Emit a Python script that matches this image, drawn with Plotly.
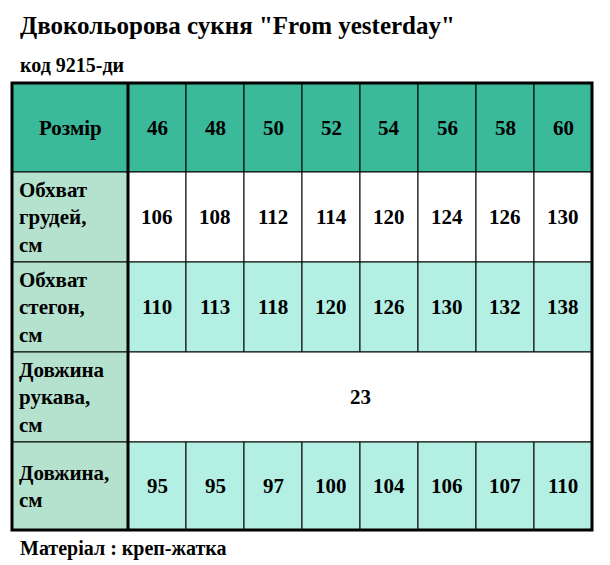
import plotly.graph_objects as go

title = 'Двокольорова сукня "From yesterday"'
subtitle = "код 9215-ди"
footer = "Матеріал : креп-жатка"
header_label = "Розмір"
sizes = ["46", "48", "50", "52", "54", "56", "58", "60"]
row_labels = ["Обхват<br>грудей,<br>см", "Обхват<br>стегон,<br>см", "Довжина<br>рукава,<br>см", "Довжина,<br>см"]
chest = [106, 108, 112, 114, 120, 124, 126, 130]
hips = [110, 113, 118, 120, 126, 130, 132, 138]
sleeve = 23
length = [95, 95, 97, 100, 104, 106, 107, 110]

HEAD = "#3bb99b"; MINT = "#b3efe3"; LABEL = "#b5e2cf"; WHITE = "#ffffff"
FONT = "Liberation Serif"

x0, x1, xl = 12, 592, 128
colw = (x1 - xl) / len(sizes)
ys = [83, 172, 262, 352, 442, 530]
rows = [chest, hips, None, length]
row_bg = [WHITE, MINT, WHITE, MINT]

shapes, ann = [], []
def rect(a, b, c, d, fill, w=1):
    shapes.append(dict(type="rect", x0=a, x1=b, y0=c, y1=d, fillcolor=fill, line=dict(color="black", width=w), layer="below"))
def text(x, y, t, size=21, anchor="center"):
    ann.append(dict(x=x, y=y, text=t, showarrow=False, xanchor=anchor, yanchor="middle",
                    font=dict(family=FONT, size=size, color="black"), align="left"))

rect(x0, xl, ys[0], ys[1], HEAD)
text((x0 + xl) / 2, (ys[0] + ys[1]) / 2, "<b>" + header_label + "</b>")
for i, s in enumerate(sizes):
    a = xl + i * colw
    rect(a, a + colw, ys[0], ys[1], HEAD)
    text(a + colw / 2, (ys[0] + ys[1]) / 2, "<b>" + s + "</b>")
for r in range(4):
    t, b = ys[r + 1], ys[r + 2]
    rect(x0, xl, t, b, LABEL)
    text(x0 + 5, (t + b) / 2, "<b>" + row_labels[r] + "</b>", anchor="left")
    if rows[r] is None:
        rect(xl, x1, t, b, row_bg[r])
        text((xl + x1) / 2, (t + b) / 2, "<b>%d</b>" % sleeve)
    else:
        for i, v in enumerate(rows[r]):
            a = xl + i * colw
            rect(a, a + colw, t, b, row_bg[r])
            text(a + colw / 2, (t + b) / 2, "<b>%d</b>" % v)
shapes.append(dict(type="rect", x0=x0, x1=x1, y0=ys[0], y1=ys[-1], line=dict(color="black", width=3)))
shapes.append(dict(type="line", x0=xl, x1=xl, y0=ys[0], y1=ys[-1], line=dict(color="black", width=3)))

ann.append(dict(x=18, y=25, text="<b>" + title + "</b>", showarrow=False, xanchor="left", yanchor="middle",
                font=dict(family=FONT, size=25, color="black")))
ann.append(dict(x=18, y=65, text="<b>" + subtitle + "</b>", showarrow=False, xanchor="left", yanchor="middle",
                font=dict(family=FONT, size=20, color="black")))
ann.append(dict(x=18, y=548, text="<b>" + footer + "</b>", showarrow=False, xanchor="left", yanchor="middle",
                font=dict(family=FONT, size=20, color="black")))

fig = go.Figure()
fig.update_layout(width=610, height=565, margin=dict(l=0, r=0, t=0, b=0),
                  plot_bgcolor="white", paper_bgcolor="white",
                  xaxis=dict(range=[8, 618], visible=False, fixedrange=True),
                  yaxis=dict(range=[573, 8], visible=False, fixedrange=True),
                  shapes=shapes, annotations=ann, showlegend=False)
fig.write_html("out.html", config={"displayModeBar": False})
